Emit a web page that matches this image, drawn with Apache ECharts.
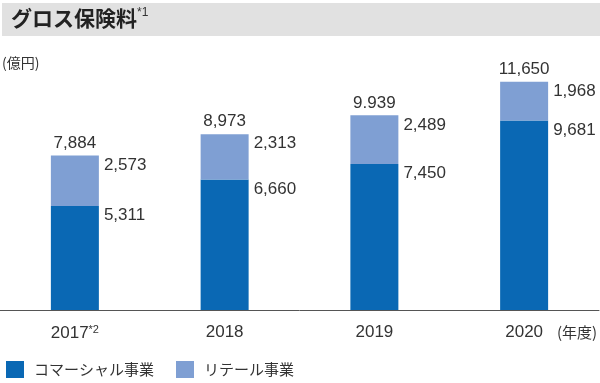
<!DOCTYPE html>
<html>
<head>
<meta charset="utf-8">
<script src="https://cdn.jsdelivr.net/npm/echarts@6/dist/echarts.min.js"></script>
<style>html,body{margin:0;padding:0;background:#fff}#c{width:600px;height:383px}</style>
</head>
<body>
<div id="c"></div>
<script>
const categories = ['2017', '2018', '2019', '2020'];
const categoryNotes = ['*2', '', '', ''];
const commercial = [5311, 6660, 7450, 9681];
const retail = [2573, 2313, 2489, 1968];
const totalLabels = ['7,884', '8,973', '9.939', '11,650'];
const seriesNames = ['コマーシャル事業', 'リテール事業'];
const titleText = 'グロス保険料';
const titleNote = '*1';
const unitText = '(億円)';
const xUnitText = '(年度)';

const NUM_FONT = '"Liberation Sans", Arial, sans-serif';
const JP_FONT = '"Noto Sans CJK JP", sans-serif';
const fmt = v => v.toLocaleString('en-US');

const chart = echarts.init(document.getElementById('c'));
const valueLabel = {
  show: true,
  position: [53, 1],
  align: 'left',
  verticalAlign: 'top',
  fontFamily: NUM_FONT,
  fontSize: 17,
  color: '#333',
  formatter: p => fmt(p.value)
};
chart.setOption({
  animation: false,
  grid: { left: -1, right: 1, top: 75, bottom: 73 },
  legend: {
    data: seriesNames,
    left: 6, top: 361, padding: 0,
    icon: 'rect', itemWidth: 18, itemHeight: 17, itemGap: 22,
    textStyle: { fontFamily: JP_FONT, fontSize: 15, color: '#333', padding: [0, 0, 0, 5] }
  },
  xAxis: {
    type: 'category',
    data: categories,
    axisLine: { lineStyle: { color: '#555', width: 1 } },
    axisTick: { show: false },
    axisLabel: {
      margin: 14,
      formatter: (v, i) => categoryNotes[i] ? v + '{sup|' + categoryNotes[i] + '}' : v,
      fontFamily: NUM_FONT, fontSize: 17, color: '#333',
      rich: { sup: { fontFamily: NUM_FONT, fontSize: 11, color: '#333', verticalAlign: 'top', padding: [0, 0, 8, 0] } }
    }
  },
  yAxis: { type: 'value', min: 0, max: 12000, show: false, splitLine: { show: false } },
  series: [
    {
      name: seriesNames[0], type: 'bar', stack: 'a', barWidth: 48,
      itemStyle: { color: '#0A68B4' },
      label: valueLabel,
      data: commercial
    },
    {
      name: seriesNames[1], type: 'bar', stack: 'a', barWidth: 48,
      itemStyle: { color: '#7F9FD3' },
      label: valueLabel,
      data: retail
    },
    {
      name: 'total', type: 'bar', stack: 'a', barWidth: 48, silent: true,
      itemStyle: { color: 'rgba(0,0,0,0)' },
      label: {
        show: true, position: 'top', distance: 4,
        fontFamily: NUM_FONT, fontSize: 17, color: '#333',
        formatter: p => totalLabels[p.dataIndex]
      },
      data: categories.map(() => 0)
    }
  ],
  graphic: [
    { type: 'rect', shape: { x: 2, y: 3, width: 598, height: 33 }, style: { fill: '#e1e1e1' }, z: -1 },
    {
      type: 'text', left: 11, top: 7,
      style: {
        text: '{t|' + titleText + '}{s|' + titleNote + '}',
        rich: {
          t: { fontFamily: JP_FONT, fontSize: 21, fontWeight: 'bold', fill: '#222' },
          s: { fontFamily: NUM_FONT, fontSize: 12, fill: '#333', verticalAlign: 'top', padding: [0, 0, 10, 0] }
        }
      }
    },
    { type: 'text', left: 2, top: 56, style: { text: unitText, fontFamily: JP_FONT, fontSize: 14, fill: '#333' } },
    { type: 'text', left: 557, top: 325, style: { text: xUnitText, fontFamily: JP_FONT, fontSize: 15, fill: '#333' } }
  ]
});
</script>
</body>
</html>
